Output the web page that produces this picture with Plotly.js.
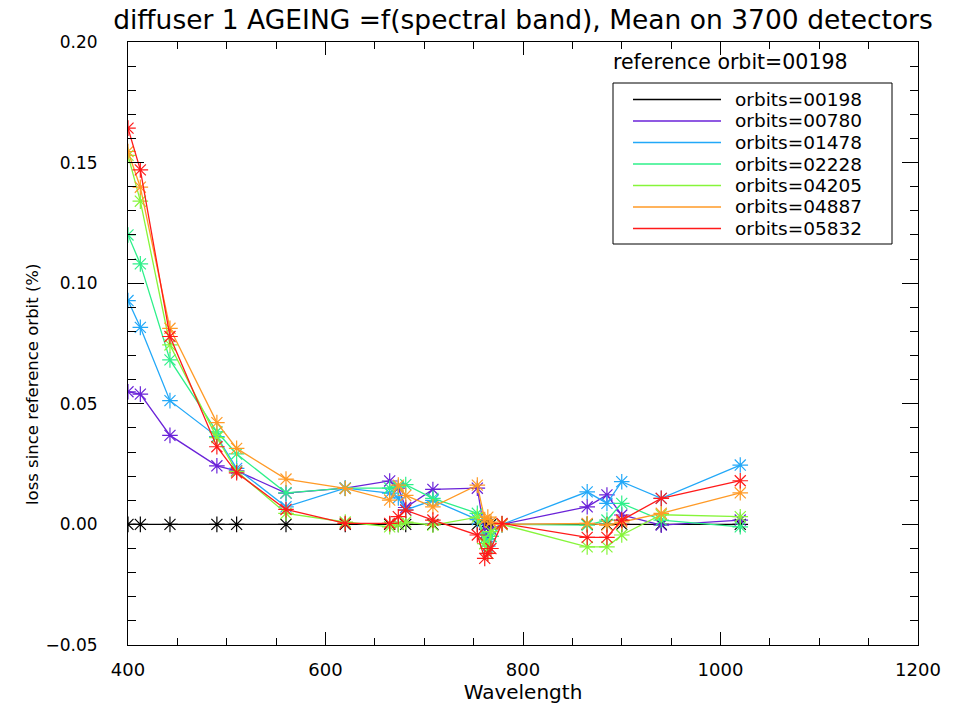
<!DOCTYPE html>
<html>
<head>
<meta charset="utf-8">
<script src="https://cdn.plot.ly/plotly-3.0.1.min.js"></script>
<style>
  html, body { margin: 0; padding: 0; background: #ffffff; }
  #chart { width: 961px; height: 705px; }
</style>
</head>
<body>
<div id="chart"></div>
<script>
// ---- data ----
const wavelengths = [400, 412.5, 442.5, 490, 510, 560, 620, 665, 673.75, 681.25, 708.75,
                     753.75, 761.25, 764.375, 767.5, 778.75, 865, 885, 900, 940, 1020];

const seriesNames = ['orbits=00198', 'orbits=00780', 'orbits=01478', 'orbits=02228',
                     'orbits=04205', 'orbits=04887', 'orbits=05832'];

const orbit00198 = [0, 0, 0, 0, 0, 0, 0, 0, 0, 0, 0,
                    0, 0, 0, 0, 0, 0, 0, 0, 0, 0];
const orbit00780 = [0.0550, 0.0540, 0.0369, 0.0243, 0.0222, 0.0130, 0.0150, 0.0180, 0.0150, 0.0070, 0.0145,
                    0.0150, -0.0040, -0.0060, -0.0020, 0.0000, 0.0073, 0.0122, 0.0039, -0.0003, 0.0018];
const orbit01478 = [0.0928, 0.0817, 0.0513, 0.0364, 0.0232, 0.0073, 0.0150, 0.0130, 0.0110, 0.0060, 0.0100,
                    0.0020, -0.0060, -0.0090, -0.0050, 0.0000, 0.0135, 0.0087, 0.0177, 0.0108, 0.0246];
const orbit02228 = [0.1200, 0.1080, 0.0682, 0.0384, 0.0292, 0.0131, 0.0150, 0.0150, 0.0156, 0.0165, 0.0108,
                    0.0046, -0.0060, -0.0100, -0.0050, 0.0000, -0.0003, 0.0018, 0.0087, 0.0018, -0.0010];
const orbit04205 = [0.1530, 0.1340, 0.0744, 0.0360, 0.0220, 0.0046, 0.0010, -0.0010, 0.0000, 0.0010, -0.0003,
                    0.0030, -0.0080, -0.0120, -0.0030, 0.0000, -0.0093, -0.0093, -0.0044, 0.0040, 0.0032];
const orbit04887 = [0.1546, 0.1398, 0.0813, 0.0422, 0.0315, 0.0188, 0.0149, 0.0101, 0.0163, 0.0120, 0.0073,
                    0.0163, 0.0020, 0.0030, 0.0010, 0.0000, 0.0004, -0.0003, 0.0010, 0.0046, 0.0131];
const orbit05832 = [0.1643, 0.1470, 0.0779, 0.0322, 0.0214, 0.0062, 0.0004, 0.0004, 0.0032, 0.0059, 0.0018,
                    -0.0044, -0.0141, -0.0120, -0.0100, 0.0004, -0.0054, -0.0054, 0.0018, 0.0108, 0.0181];

const seriesValues = [orbit00198, orbit00780, orbit01478, orbit02228, orbit04205, orbit04887, orbit05832];

const xTickValues = [400, 600, 800, 1000, 1200];
const yTickValues = [-0.05, 0.00, 0.05, 0.10, 0.15, 0.20];

// ---- styles ----
const colors = ['#000000', '#6a22d8', '#22a8f8', '#2ef08a', '#86f53a', '#ff9a26', '#ff1a1a'];
const FONT = 'DejaVu Sans, Liberation Sans, sans-serif';

const traces = seriesValues.map((vals, i) => ({
  type: 'scatter',
  mode: 'lines+markers',
  x: wavelengths,
  y: vals,
  name: seriesNames[i],
  showlegend: false,
  line: { color: colors[i], width: 1.3 },
  marker: { symbol: 'asterisk-open', size: 13, color: colors[i], line: { color: colors[i], width: 1.2 } },
  hoverinfo: 'x+y+name'
}));

// plot-area geometry in pixels (for the manual legend)
const L = 128, R = 43, T = 42, B = 60, W = 961, H = 705;
const pw = W - L - R, ph = H - T - B;
const px2x = p => (p - L) / pw;
const py2y = p => (H - B - p) / ph;

const shapes = [];
const annotations = [];

// legend box
shapes.push({ type: 'rect', xref: 'paper', yref: 'paper',
  x0: px2x(613), x1: px2x(892), y0: py2y(244), y1: py2y(83),
  line: { color: '#000000', width: 1 }, fillcolor: '#ffffff' });

seriesNames.forEach((name, i) => {
  const yy = py2y(99.5 + 21.5 * i);
  shapes.push({ type: 'line', xref: 'paper', yref: 'paper',
    x0: px2x(633), x1: px2x(721), y0: yy, y1: yy,
    line: { color: colors[i], width: 1.3 } });
  annotations.push({ xref: 'paper', yref: 'paper', x: px2x(733), y: yy,
    xanchor: 'left', yanchor: 'middle', showarrow: false, text: name,
    font: { family: FONT, size: 18.5, color: '#000000' } });
});

annotations.push({ xref: 'paper', yref: 'paper', x: px2x(611), y: py2y(62),
  xanchor: 'left', yanchor: 'middle', showarrow: false, text: 'reference orbit=00198',
  font: { family: FONT, size: 20.5, color: '#000000' } });

annotations.push({ xref: 'paper', yref: 'paper', x: px2x(32), y: py2y(385),
  xanchor: 'center', yanchor: 'middle', showarrow: false, textangle: -90,
  text: 'loss since reference orbit (%)',
  font: { family: FONT, size: 16.5, color: '#000000' } });

const layout = {
  width: W, height: H,
  margin: { l: L, r: R, t: T, b: B, pad: 0 },
  paper_bgcolor: '#ffffff',
  plot_bgcolor: '#ffffff',
  showlegend: false,
  font: { family: FONT, color: '#000000', size: 16 },
  title: {
    text: 'diffuser 1 AGEING =f(spectral band), Mean on 3700 detectors',
    font: { family: FONT, size: 26.5, color: '#000000' },
    xref: 'paper', x: 0.5, xanchor: 'center',
    yref: 'container', y: 1 - 20 / H, yanchor: 'middle'
  },
  xaxis: {
    range: [400, 1200],
    tickmode: 'array', tickvals: xTickValues, ticktext: xTickValues.map(String),
    ticks: 'inside', ticklen: 13, tickwidth: 1, tickcolor: '#000000',
    minor: { ticks: 'inside', ticklen: 7, dtick: 50, tick0: 400, tickwidth: 1, tickcolor: '#000000', showgrid: false },
    showline: true, linecolor: '#000000', linewidth: 1, mirror: 'allticks',
    showgrid: false, zeroline: false,
    tickfont: { family: FONT, size: 18, color: '#000000' },
    ticklabelstandoff: 8,
    title: { text: 'Wavelength', font: { family: FONT, size: 20, color: '#000000' }, standoff: 6 }
  },
  yaxis: {
    range: [-0.05, 0.20],
    tickmode: 'array', tickvals: yTickValues, ticktext: yTickValues.map(v => (v < 0 ? '\u2212' : '') + Math.abs(v).toFixed(2)),
    ticks: 'inside', ticklen: 16, tickwidth: 1, tickcolor: '#000000',
    minor: { ticks: 'inside', ticklen: 8, dtick: 0.01, tick0: 0, tickwidth: 1, tickcolor: '#000000', showgrid: false },
    showline: true, linecolor: '#000000', linewidth: 1, mirror: 'allticks',
    showgrid: false, zeroline: false,
    tickfont: { family: FONT, size: 17, color: '#000000' },
    ticklabelstandoff: 26
  },
  shapes: shapes,
  annotations: annotations
};

Plotly.newPlot('chart', traces, layout, { displayModeBar: false, staticPlot: true });
</script>
</body>
</html>
